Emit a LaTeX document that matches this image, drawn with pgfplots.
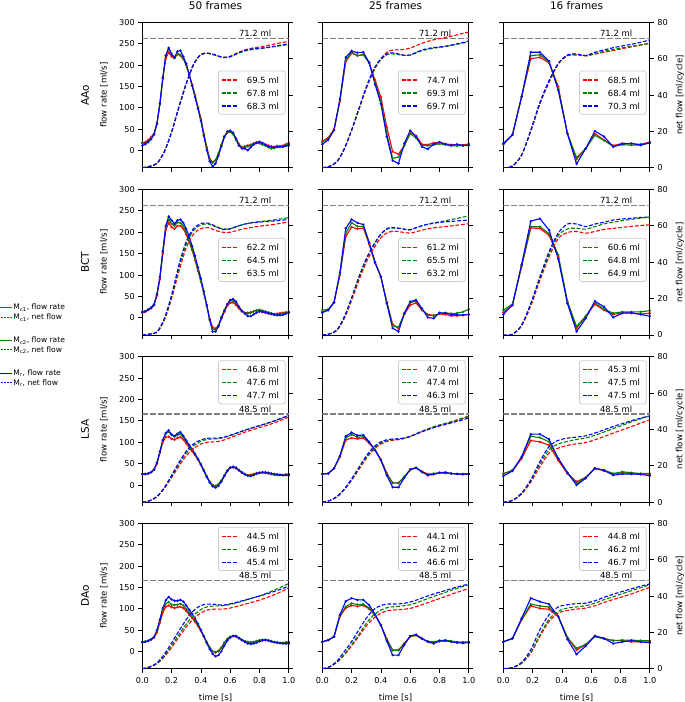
\documentclass[border=0pt]{standalone}
\usepackage{fontspec}
\setmainfont{DejaVu Sans}
\usepackage{pgfplots}
\usepackage{pgfplotstable}
\pgfplotsset{compat=1.18}
\definecolor{mred}{HTML}{FF0000}
\definecolor{mgreen}{HTML}{008000}
\definecolor{mblue}{HTML}{0000FF}
\definecolor{mgray}{HTML}{808080}

% ---------------- data: flow rate [ml/s] ----------------
\pgfplotstableread{
t r g b
0 18 18 12
0.02 20 17 15
0.04 25 22 20
0.06 32 28 27
0.08 40 38 38
0.10 65 62 63
0.12 110 108 110
0.14 168 170 170
0.16 215 222 222
0.18 230 240 240
0.20 220 225 226
0.22 217 216 218
0.24 225 227 232
0.26 222 224 234
0.28 215 214 220
0.30 200 200 203
0.32 178 177 178
0.34 155 153 152
0.36 130 128 125
0.38 102 100 98
0.40 75 73 70
0.42 40 38 35
0.44 8 6 2
0.46 -18 -20 -25
0.48 -27 -28 -37
0.50 -22 -22 -30
0.52 -8 -6 -12
0.54 12 14 10
0.56 32 34 32
0.58 42 43 45
0.60 44 44 47
0.62 40 38 42
0.64 28 25 28
0.66 15 12 12
0.68 8 7 5
0.70 10 8 5
0.72 12 10 1
0.74 14 13 8
0.76 17 16 14
0.78 20 18 18
0.80 18 17 21
0.82 16 14 18
0.84 15 12 14
0.86 12 8 10
0.88 10 5 9
0.90 9 6 8
0.92 11 8 9
0.94 10 8 10
0.96 12 10 9
0.98 15 13 11
1.00 18 15 12
}\fAi
\pgfplotstableread{
t r g b
0 22 20 15
0.04 30 28 25
0.08 50 48 48
0.12 115 118 120
0.16 208 212 218
0.20 228 230 233
0.24 222 222 229
0.28 225 224 230
0.32 205 205 206
0.36 165 160 155
0.40 125 115 110
0.44 55 40 33
0.48 -2 -18 -23
0.52 -8 -15 -30
0.56 12 12 17
0.60 42 40 47
0.64 35 30 33
0.68 15 12 9
0.72 14 12 4
0.76 18 14 15
0.80 20 16 20
0.84 16 14 15
0.88 14 12 12
0.92 14 11 15
0.96 13 12 12
1.00 16 12 13
}\fAii
\pgfplotstableread{
t r g b
0 14 15 17
0.0625 37 37 37
0.125 126 126 126
0.1875 215 222 230
0.25 218 224 230
0.3125 205 207 209
0.375 150 146 141
0.4375 40 40 40
0.5 -20 -16 -31
0.5625 5 5 5
0.625 40 36 46
0.6875 25 24 33
0.75 12 10 9
0.8125 17 14 16
0.875 16 13 17
0.9375 15 13 13
1 20 18 19
}\fAiii
\pgfplotstableread{
t r g b
0 12 15 13
0.02 14 16 15
0.04 18 20 19
0.06 22 24 24
0.08 30 32 30
0.10 52 55 55
0.12 90 95 95
0.14 150 155 155
0.16 205 212 215
0.18 222 230 237
0.20 212 220 228
0.22 208 215 220
0.24 215 223 228
0.26 215 222 230
0.28 208 215 222
0.30 195 200 208
0.32 178 182 190
0.34 158 160 168
0.36 135 138 145
0.38 110 112 118
0.40 85 86 92
0.42 58 58 62
0.44 28 28 30
0.46 -2 -4 -5
0.48 -22 -26 -32
0.50 -25 -28 -32
0.52 -18 -18 -20
0.54 -2 2 0
0.56 14 18 16
0.58 28 32 32
0.60 35 40 42
0.62 36 40 44
0.64 30 34 38
0.66 22 25 26
0.68 15 17 16
0.70 12 12 10
0.72 12 10 4
0.74 13 12 4
0.76 15 15 8
0.78 17 18 12
0.80 16 19 15
0.82 14 17 14
0.84 12 15 13
0.86 10 13 11
0.88 9 11 9
0.90 9 9 7
0.92 10 8 6
0.94 11 9 6
0.96 12 10 7
0.98 13 12 10
1.00 14 12 13
}\fBi
\pgfplotstableread{
t r g b
0 14 18 12
0.04 18 20 18
0.08 36 36 36
0.12 100 102 106
0.16 190 198 209
0.20 212 222 230
0.24 208 214 222
0.28 210 214 218
0.32 172 174 176
0.36 128 130 130
0.40 96 96 96
0.44 38 36 34
0.48 -15 -18 -24
0.52 -25 -22 -32
0.56 8 10 11
0.60 30 35 38
0.64 35 40 42
0.68 18 20 22
0.72 8 6 1
0.76 6 5 -1
0.80 9 10 12
0.84 8 12 11
0.88 5 10 8
0.92 5 11 7
0.96 6 14 7
1.00 8 20 8
}\fBii
\pgfplotstableread{
t r g b
0 13 18 8
0.0625 30 32 30
0.125 120 122 125
0.1875 210 213 226
0.25 209 213 232
0.3125 193 197 205
0.375 143 147 138
0.4375 38 38 34
0.5 -24 -20 -32
0.5625 3 4 -1
0.625 32 36 39
0.6875 18 20 26
0.75 8 11 1
0.8125 12 14 11
0.875 11 14 12
0.9375 9 14 8
1 11 17 4
}\fBiii
\pgfplotstableread{
t r g b
0 26 26 26
0.02 26 26 26
0.04 27 27 27
0.06 30 30 30
0.08 36 36 36
0.10 50 52 52
0.12 75 78 78
0.14 100 105 105
0.16 112 120 122
0.18 113 125 128
0.20 108 117 118
0.22 106 113 115
0.24 110 117 120
0.26 112 119 124
0.28 106 112 115
0.30 97 102 104
0.32 88 92 94
0.34 79 82 84
0.36 70 72 73
0.38 59 61 61
0.40 47 49 48
0.42 34 35 33
0.44 20 21 19
0.46 8 8 6
0.48 0 0 -3
0.50 -2 -2 -6
0.52 2 2 -2
0.54 10 11 8
0.56 22 23 21
0.58 33 34 33
0.60 40 41 41
0.62 41 42 43
0.64 39 40 41
0.66 34 35 35
0.68 29 30 29
0.70 25 26 25
0.72 23 23 22
0.74 24 22 21
0.76 26 24 23
0.78 28 26 27
0.80 29 28 29
0.82 29 29 30
0.84 28 29 30
0.86 27 28 29
0.88 26 26 27
0.90 25 24 26
0.92 24 23 25
0.94 24 23 24
0.96 24 23 23
0.98 25 24 23
1.00 26 24 23
}\fCi
\pgfplotstableread{
t r g b
0 26 26 26
0.04 27 27 27
0.08 39 39 39
0.12 66 67 68
0.16 105 110 114
0.20 110 118 123
0.24 108 112 116
0.28 110 113 117
0.32 98 100 101
0.36 82 82 82
0.40 60 59 58
0.44 28 26 23
0.48 5 5 -5
0.52 5 5 -5
0.56 20 19 17
0.60 36 35 37
0.64 40 41 40
0.68 32 30 31
0.72 26 24 23
0.76 26 27 25
0.80 28 29 29
0.84 28 28 30
0.88 27 27 27
0.92 26 26 26
0.96 26 26 25
1.00 26 26 26
}\fCii
\pgfplotstableread{
t r g b
0 27 26 21
0.0625 33 35 33
0.125 62 64 66
0.1875 104 114 119
0.25 101 111 119
0.3125 93 101 107
0.375 58 62 62
0.4375 27 29 29
0.5 8 4 0
0.5625 18 18 16
0.625 39 39 39
0.6875 33 35 35
0.75 26 27 23
0.8125 29 31 26
0.875 27 29 26
0.9375 26 27 25
1 26 27 22
}\fCiii
\pgfplotstableread{
t r g b
0 22 23 22
0.02 23 24 23
0.04 25 26 25
0.06 28 29 29
0.08 33 34 34
0.10 45 48 50
0.12 68 72 75
0.14 92 98 102
0.16 105 112 120
0.18 108 116 128
0.20 104 110 122
0.22 102 109 119
0.24 104 110 119
0.26 105 112 121
0.28 102 108 117
0.30 95 100 108
0.32 87 91 98
0.34 79 82 89
0.36 70 73 78
0.38 60 62 65
0.40 48 50 51
0.42 35 36 36
0.44 22 22 20
0.46 10 10 6
0.48 1 1 -5
0.50 -2 -1 -11
0.52 1 2 -8
0.54 9 10 1
0.56 20 21 14
0.58 29 30 26
0.60 34 35 33
0.62 36 37 37
0.64 35 36 37
0.66 31 32 32
0.68 27 28 27
0.70 24 25 23
0.72 22 23 19
0.74 21 22 18
0.76 22 23 19
0.78 24 25 21
0.80 26 27 24
0.82 27 28 26
0.84 27 28 27
0.86 26 27 26
0.88 24 25 24
0.90 22 23 22
0.92 21 22 21
0.94 20 21 20
0.96 20 21 19
0.98 21 22 19
1.00 22 23 19
}\fDi
\pgfplotstableread{
t r g b
0 23 23 23
0.04 27 27 27
0.08 35 35 35
0.12 82 84 86
0.16 102 105 118
0.20 108 113 125
0.24 106 110 121
0.28 108 111 121
0.32 100 102 109
0.36 85 86 87
0.40 62 62 62
0.44 30 28 25
0.48 4 3 -8
0.52 4 3 -8
0.56 20 18 16
0.60 35 36 37
0.64 38 39 40
0.68 30 30 31
0.72 24 24 23
0.76 22 23 19
0.80 24 26 25
0.84 25 27 26
0.88 24 25 23
0.92 22 22 21
0.96 22 22 20
1.00 22 23 21
}\fDii
\pgfplotstableread{
t r g b
0 23 23 23
0.0625 31 31 31
0.125 74 76 78
0.1875 107 111 125
0.25 101 107 117
0.3125 99 104 111
0.375 82 83 82
0.4375 33 33 29
0.5 4 8 -6
0.5625 16 17 13
0.625 37 35 37
0.6875 31 30 31
0.75 26 26 19
0.8125 26 27 23
0.875 23 27 26
0.9375 23 26 23
1 23 26 21
}\fDiii

% ---------------- data: net flow [ml] ----------------
\pgfplotstableread{
t r g b
0 0 0 0
0.05 0.8 0.8 0.8
0.10 2.4 2.4 2.4
0.15 8.8 8.7 8.8
0.20 19.5 19.7 19.8
0.25 33 33.4 33.6
0.30 46 46.3 46.4
0.35 56.5 56.8 57
0.40 62.2 62.2 62.4
0.45 63 62.8 63
0.50 62 61.8 62
0.55 60.8 60.6 60.7
0.60 61.3 61 61.1
0.65 63.2 62.8 63
0.70 64.8 64.2 64.6
0.75 65.8 65 65.4
0.80 66.4 65.5 65.7
0.85 67.2 66 66.2
0.90 68 66.6 66.8
0.95 68.8 67.2 67.5
1.00 69.5 67.8 68.3
}\nAi
\pgfplotstableread{
t r g b
0 0 0 0
0.05 0.8 0.8 0.8
0.10 3.5 3.4 3.3
0.15 10.5 10.4 10.3
0.20 20.5 20.6 20.8
0.25 32 32.3 32.6
0.30 43.5 44 44.4
0.35 53 53.5 54
0.40 60 59.5 60
0.45 64 62.5 63
0.50 64.8 62.5 63
0.55 65 61.8 62
0.60 65.8 62 62
0.65 67.5 63.5 63.8
0.70 69 64.8 65.2
0.75 70.2 65.6 66
0.80 71 66.2 66.4
0.85 71.8 66.8 67
0.90 72.7 67.6 67.8
0.95 73.7 68.4 68.7
1.00 74.7 69.3 69.7
}\nAii
\pgfplotstableread{
t r g b
0 0 0 0
0.0625 1 1 1
0.125 7 7 7
0.1875 20 20.3 20.7
0.25 35 35.5 36
0.3125 47 47.5 48
0.375 57 57.2 57.4
0.4375 61.5 61.8 62
0.5 62 62.3 62.6
0.5625 61.5 61.6 61.8
0.625 62.5 62.8 63.5
0.6875 63.5 64 64.8
0.75 64.5 65 66
0.8125 65.5 66 67
0.875 66.5 66.8 67.9
0.9375 67.5 67.6 69
1 68.5 68.4 70.3
}\nAiii
\pgfplotstableread{
t r g b
0 0 0 0
0.05 0.5 0.5 0.5
0.10 1.5 1.5 1.6
0.15 8 8.5 9
0.20 20 21 22
0.25 35 37 38.5
0.30 48 50 51.5
0.35 55.5 57.5 58.5
0.40 58.5 60.5 61.3
0.45 59 61 61.5
0.50 57.5 59.5 59.8
0.55 56.5 58.3 58
0.60 56.5 58.5 58.3
0.65 57.5 59.8 59.8
0.70 58.5 61 61
0.75 59.2 61.8 61.7
0.80 59.8 62.3 62.1
0.85 60.3 62.8 62.4
0.90 60.8 63.3 62.7
0.95 61.5 63.9 63.1
1.00 62.2 64.5 63.5
}\nBi
\pgfplotstableread{
t r g b
0 0 0 0
0.05 0.6 0.6 0.6
0.10 2.5 2.7 2.8
0.15 9 9.5 10
0.20 19 20 20.5
0.25 30 31.5 32
0.30 40 41.5 42
0.35 47.5 49 49.5
0.40 53.5 55.5 55.5
0.45 56.5 58.5 58.8
0.50 57 58.8 59
0.55 56.5 58.3 58.3
0.60 56 57.8 57.8
0.65 57 59.3 59.3
0.70 58 60.5 60.5
0.75 58.8 61.5 61.3
0.80 59.3 62.2 61.9
0.85 59.7 63 62.3
0.90 60.2 63.8 62.6
0.95 60.7 64.6 62.9
1.00 61.2 65.5 63.2
}\nBii
\pgfplotstableread{
t r g b
0 0 0 0
0.0625 0.4 0.4 0.4
0.125 5 5.2 5.5
0.1875 16 16.8 17.4
0.25 30 31 32
0.3125 43 44.5 45.9
0.375 53 54.7 56
0.4375 56.3 58.3 61
0.5 56.9 58.7 61
0.5625 56 58.2 59.6
0.625 56.9 59.6 61
0.6875 58.1 61.1 62
0.75 58.6 62 63.2
0.8125 59.2 62.9 63.8
0.875 59.7 63.6 64.2
0.9375 60.2 64.3 64.6
1 60.6 64.8 64.9
}\nBiii
\pgfplotstableread{
t r g b
0 0 0 0
0.05 0.8 0.8 0.8
0.10 3 3 3.1
0.15 7.5 7.8 8
0.20 13.5 14.3 14.8
0.25 19.8 21 21.8
0.30 25.5 27 28
0.35 29.5 31 32
0.40 32 33.5 34.3
0.45 33 34.6 35.2
0.50 33.2 34.8 35.2
0.55 34 35.4 35.6
0.60 35.5 36.6 36.8
0.65 37 38 38.2
0.70 38.5 39.5 39.6
0.75 39.8 40.8 40.9
0.80 41 42 42.1
0.85 42.3 43.3 43.4
0.90 43.6 44.6 44.7
0.95 45.2 46.1 46.2
1.00 46.8 47.6 47.7
}\nCi
\pgfplotstableread{
t r g b
0 0 0 0
0.05 0.9 0.9 0.9
0.10 3 3 3.1
0.15 6.8 7 7.2
0.20 12 12.4 12.8
0.25 18 18.6 19.2
0.30 24 24.7 25.4
0.35 28.8 29.5 30.3
0.40 32 32.6 33.2
0.45 33.6 34 34.5
0.50 34.2 34.5 34.8
0.55 34.8 35 35.2
0.60 36 36.2 36.2
0.65 37.8 38 37.8
0.70 39.5 39.7 39.3
0.75 41 41.2 40.7
0.80 42.2 42.5 41.9
0.85 43.3 43.6 42.9
0.90 44.5 44.8 44
0.95 45.7 46.1 45.1
1.00 47 47.4 46.3
}\nCii
\pgfplotstableread{
t r g b
0 0 0 0
0.0625 1 1 1
0.125 4.5 4.8 5
0.1875 11 11.8 12.3
0.25 19.5 21 22.4
0.3125 27 28.8 30.6
0.375 29.7 32 34
0.4375 31.2 33.4 35.2
0.5 32.1 34.5 35.8
0.5625 32.8 35.3 36.5
0.625 34.3 36.8 38
0.6875 36.1 38.6 39.8
0.75 38 40.5 41.6
0.8125 39.8 42.3 43.2
0.875 41.6 44.2 44.8
0.9375 43.5 45.9 46.2
1 45.3 47.5 47.5
}\nCiii
\pgfplotstableread{
t r g b
0 0 0 0
0.05 1 1 1
0.10 2.8 2.9 3.2
0.15 6.5 7 8
0.20 11.8 12.8 14.3
0.25 17.5 18.8 20.8
0.30 23 24.6 27
0.35 27.5 29.3 32
0.40 30.8 32.6 34.8
0.45 32.4 34.2 35.6
0.50 32.8 34.6 35.4
0.55 32.8 34.7 35
0.60 33.4 35.4 35.7
0.65 34.4 36.4 36.7
0.70 35.5 37.6 37.8
0.75 36.6 38.8 38.9
0.80 37.8 40.1 40
0.85 39.2 41.6 41.2
0.90 40.7 43.2 42.5
0.95 42.5 45 43.9
1.00 44.5 46.9 45.4
}\nDi
\pgfplotstableread{
t r g b
0 0 0 0
0.05 1.1 1.1 1.1
0.10 3.5 3.7 4.2
0.15 7.5 8 9.5
0.20 12.5 13.3 15
0.25 18 19 21.5
0.30 23.5 25 27.8
0.35 27.8 29.5 32.5
0.40 30.6 32.3 34.8
0.45 32 33.8 35.6
0.50 32.4 34.2 35.6
0.55 32.7 34.6 35.9
0.60 33.2 35.2 36.7
0.65 34.4 36.5 38
0.70 35.8 38 39.5
0.75 37.2 39.5 40.9
0.80 38.6 40.9 42.1
0.85 40 42.3 43.3
0.90 41.5 43.7 44.5
0.95 42.8 45 45.6
1.00 44.1 46.2 46.6
}\nDii
\pgfplotstableread{
t r g b
0 0 0 0
0.0625 0.7 0.7 0.7
0.125 3 3.2 3.5
0.1875 8.6 9 10.5
0.25 17.8 18.7 21.5
0.3125 26 27.3 29.7
0.375 30.6 31.6 34
0.4375 32.1 33.4 35.2
0.5 32.8 34 35.8
0.5625 33.4 34.7 36.1
0.625 34.7 36.1 37.4
0.6875 36.5 38 39.3
0.75 38.1 39.6 41
0.8125 39.6 41.3 42.5
0.875 41.2 43 44
0.9375 43 44.6 45.4
1 44.8 46.2 46.7
}\nDiii

\newcommand{\smallfont}{\fontsize{8.2}{9.8}\selectfont}
\newcommand{\labfont}{\fontsize{8.6}{10}\selectfont}
\newcommand{\legfont}{\fontsize{8.5}{10}\selectfont}
\newcommand{\bigfont}{\fontsize{10.5}{12}\selectfont}

\pgfplotsset{
  every axis title shift=0pt,
  base/.style={scale only axis, width=146.5bp, height=145.5bp, xmin=0, xmax=1,
    anchor=south west, tick align=outside, major tick length=4bp,
    every tick/.style={draw=black, line width=0.8bp},
    axis line style={draw=black, line width=0.9bp},
    tick label style={font=\smallfont, /pgf/number format/assume math mode=true}},
  flowax/.style={base, ymin=-40, ymax=300, ytick={0,50,100,150,200,250,300},
    xtick={0,0.2,0.4,0.6,0.8,1}, xtick pos=left, ytick pos=left,
    xticklabel style={yshift=-1.5bp, /pgf/number format/.cd, fixed, fixed zerofill, precision=1},
    every axis y label/.style={at={(axis description cs:-0.262,0.5)}, rotate=90, anchor=center, font=\labfont},
    every axis x label/.style={at={(axis description cs:0.5,0)}, yshift=-29.5bp, anchor=center, font=\labfont},
    title style={at={(axis description cs:0.5,1)}, anchor=base, yshift=13bp, font=\bigfont}},
  netax/.style={base, ymin=0, ymax=80, ytick={0,20,40,60,80},
    axis x line=none, axis y line*=right,
    every axis y label/.style={at={(axis description cs:1.207,0.5)}, rotate=90, anchor=center, font=\labfont}},
  fr/.style={draw=mred, line width=1.1bp, mark=*, mark size=0.55bp, mark options={draw=mred, fill=mred}},
  fg/.style={draw=mgreen, line width=1.1bp, mark=*, mark size=0.55bp, mark options={draw=mgreen, fill=mgreen}},
  fb/.style={draw=mblue, line width=1.1bp, mark=*, mark size=0.55bp, mark options={draw=mblue, fill=mblue}},
  nr/.style={draw=mred, line width=1.1bp, dash pattern=on 3.8bp off 1.8bp, smooth},
  ng/.style={draw=mgreen, line width=1.1bp, dash pattern=on 3.8bp off 1.8bp, smooth},
  nb/.style={draw=mblue, line width=1.1bp, dash pattern=on 3.8bp off 1.8bp, smooth},
  lkr/.style={draw=mred, line width=1.1bp, dash pattern=on 3.8bp off 1.8bp, forget plot},
  lkg/.style={draw=mgreen, line width=1.1bp, dash pattern=on 3.8bp off 1.8bp, forget plot},
  lkb/.style={draw=mblue, line width=1.1bp, dash pattern=on 3.8bp off 1.8bp, forget plot},
  rowlab/.style={extra description/.code={\node[rotate=90, font=\bigfont] at (axis description cs:-0.391,0.5) {#1};}},
}

% legend box of a panel: #1 box top below axis top (bp), #2-#4 key heights (net-flow units), #5-#7 entries
\newcommand{\manleg}[7]{%
  \draw[draw=black!20, line width=0.8bp, fill=white, fill opacity=0.8, rounded corners=2.5bp]
    ([xshift=76.2bp, yshift=-#1 bp]axis description cs:0,1) rectangle
    ([xshift=143bp, yshift={-(#1+43.3)*1bp}]axis description cs:0,1);
  \addplot[lkr] coordinates {(0.542,#2) (0.655,#2)};
  \addplot[lkg] coordinates {(0.542,#3) (0.655,#3)};
  \addplot[lkb] coordinates {(0.542,#4) (0.655,#4)};
  \node[anchor=west, inner sep=0pt, font=\legfont] at (axis cs:0.713,#2) {#5};
  \node[anchor=west, inner sep=0pt, font=\legfont] at (axis cs:0.713,#3) {#6};
  \node[anchor=west, inner sep=0pt, font=\legfont] at (axis cs:0.713,#4) {#7};
}
\newcommand{\legR}[3]{\manleg{48.7}{48.27}{41.13}{33.98}{#1}{#2}{#3}}
\newcommand{\legU}[3]{\manleg{4}{72.85}{65.70}{58.56}{#1}{#2}{#3}}

% #1 x, #2 y, #3 flow table, #4 net table, #5 flow opts, #6 net opts, #7 reference volume, #8 legend
\newcommand{\panel}[8]{%
\begin{axis}[flowax, at={(#1,#2)}, #5]
  \addplot[fr] table[x=t, y=r] {#3};
  \addplot[fg] table[x=t, y=g] {#3};
  \addplot[fb] table[x=t, y=b] {#3};
\end{axis}
\begin{axis}[netax, at={(#1,#2)}, #6]
  \addplot[draw=mgray, line width=1.2bp, dash pattern=on 5.5bp off 2.5bp] coordinates {(0,#7) (1,#7)};
  \node[font=\legfont, anchor=base, yshift=1.6bp] at (axis cs:0.77,#7) {#7 ml};
  \addplot[nr] table[x=t, y=r] {#4};
  \addplot[ng] table[x=t, y=g] {#4};
  \addplot[nb] table[x=t, y=b] {#4};
  #8
\end{axis}}

\begin{document}
\begin{tikzpicture}
% ---- row 1: AAo
\panel{142.3bp}{534.2bp}{\fAi}{\nAi}{xticklabels={}, title={50 frames}, ylabel={flow rate [ml/s]}, rowlab=AAo}{yticklabels={}}{71.2}{\legR{69.5 ml}{67.8 ml}{68.3 ml}}
\panel{322.3bp}{534.2bp}{\fAii}{\nAii}{xticklabels={}, yticklabels={}, title={25 frames}}{yticklabels={}}{71.2}{\legR{74.7 ml}{69.3 ml}{69.7 ml}}
\panel{503.3bp}{534.2bp}{\fAiii}{\nAiii}{xticklabels={}, yticklabels={}, title={16 frames}}{ylabel={net flow [ml/cycle]}}{71.2}{\legR{68.5 ml}{68.4 ml}{70.3 ml}}
% ---- row 2: BCT
\panel{142.3bp}{367bp}{\fBi}{\nBi}{xticklabels={}, ylabel={flow rate [ml/s]}, rowlab=BCT}{yticklabels={}}{71.2}{\legR{62.2 ml}{64.5 ml}{63.5 ml}}
\panel{322.3bp}{367bp}{\fBii}{\nBii}{xticklabels={}, yticklabels={}}{yticklabels={}}{71.2}{\legR{61.2 ml}{65.5 ml}{63.2 ml}}
\panel{503.3bp}{367bp}{\fBiii}{\nBiii}{xticklabels={}, yticklabels={}}{ylabel={net flow [ml/cycle]}}{71.2}{\legR{60.6 ml}{64.8 ml}{64.9 ml}}
% ---- row 3: LSA
\panel{142.3bp}{199.8bp}{\fCi}{\nCi}{xticklabels={}, ylabel={flow rate [ml/s]}, rowlab=LSA}{yticklabels={}}{48.5}{\legU{46.8 ml}{47.6 ml}{47.7 ml}}
\panel{322.3bp}{199.8bp}{\fCii}{\nCii}{xticklabels={}, yticklabels={}}{yticklabels={}}{48.5}{\legU{47.0 ml}{47.4 ml}{46.3 ml}}
\panel{503.3bp}{199.8bp}{\fCiii}{\nCiii}{xticklabels={}, yticklabels={}}{ylabel={net flow [ml/cycle]}}{48.5}{\legU{45.3 ml}{47.5 ml}{47.5 ml}}
% ---- row 4: DAo
\panel{142.3bp}{33.2bp}{\fDi}{\nDi}{xlabel={time [s]}, ylabel={flow rate [ml/s]}, rowlab=DAo}{yticklabels={}}{48.5}{\legU{44.5 ml}{46.9 ml}{45.4 ml}}
\panel{322.3bp}{33.2bp}{\fDii}{\nDii}{xlabel={time [s]}, yticklabels={}}{yticklabels={}}{48.5}{\legU{44.1 ml}{46.2 ml}{46.6 ml}}
\panel{503.3bp}{33.2bp}{\fDiii}{\nDiii}{xlabel={time [s]}, yticklabels={}}{ylabel={net flow [ml/cycle]}}{48.5}{\legU{44.8 ml}{46.2 ml}{46.7 ml}}
% ---- global legend (left), keys drawn in a hidden axis spanning the page
\begin{axis}[hide axis, scale only axis, width=685bp, height=702bp, at={(0bp,0bp)}, anchor=south west,
  xmin=0, xmax=685, ymin=0, ymax=702, clip=false]
  \addplot[draw=mred, line width=1.1bp, forget plot] coordinates {(-2,394.3) (12.3,394.3)};
  \addplot[draw=mred, line width=1bp, dash pattern=on 2bp off 1bp, forget plot] coordinates {(-2,384.3) (12.3,384.3)};
  \addplot[draw=mgreen, line width=1.1bp, forget plot] coordinates {(-2,361.3) (12.3,361.3)};
  \addplot[draw=mgreen, line width=1bp, dash pattern=on 2bp off 1bp, forget plot] coordinates {(-2,352) (12.3,352)};
  \addplot[draw=mblue, line width=1.1bp, forget plot] coordinates {(-2,328.7) (12.3,328.7)};
  \addplot[draw=mblue, line width=1bp, dash pattern=on 2bp off 1bp, forget plot] coordinates {(-2,319) (12.3,319)};
  \begin{scope}[every node/.style={anchor=west, inner sep=0pt, font=\fontsize{7.6}{8}\selectfont}]
  \node at (axis cs:13.3,394.3) {M\textsubscript{c1}, flow rate};
  \node at (axis cs:13.3,384.3) {M\textsubscript{c1}, net flow};
  \node at (axis cs:13.3,361.3) {M\textsubscript{c2}, flow rate};
  \node at (axis cs:13.3,352) {M\textsubscript{c2}, net flow};
  \node at (axis cs:13.3,328.7) {M\textsubscript{r}, flow rate};
  \node at (axis cs:13.3,319) {M\textsubscript{r}, net flow};
  \end{scope}
\end{axis}
\pgfresetboundingbox
\path[use as bounding box] (0bp,0bp) rectangle (685bp,702bp);
\end{tikzpicture}
\end{document}
